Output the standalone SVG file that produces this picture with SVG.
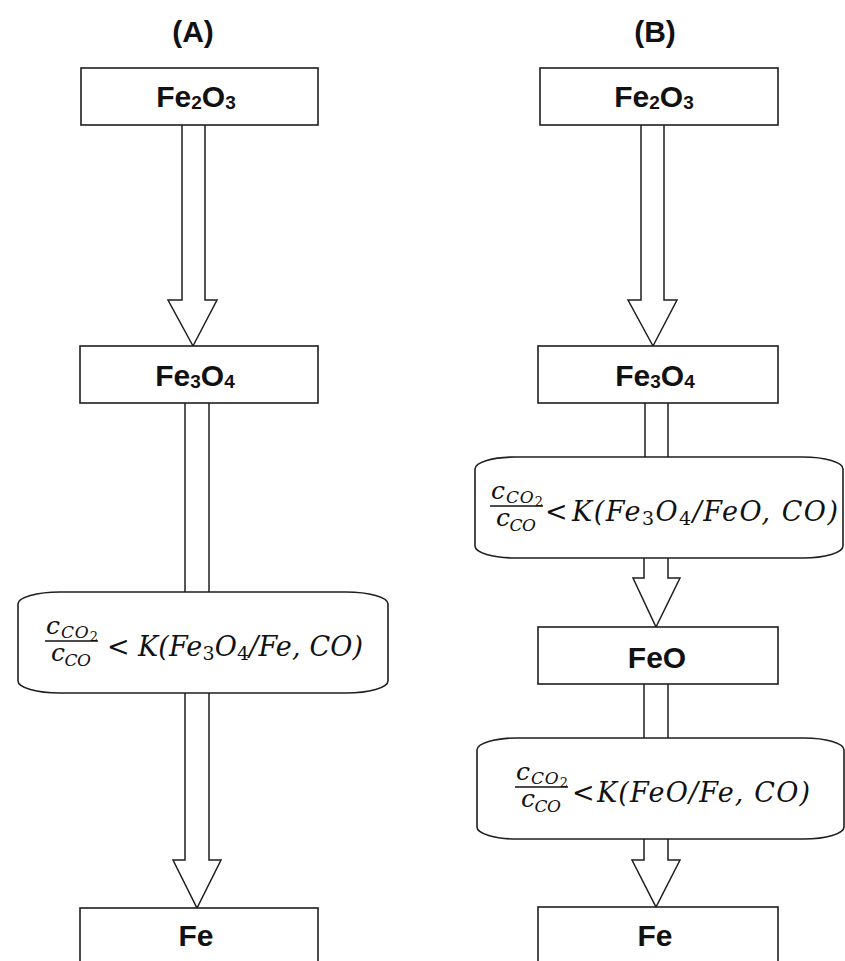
<svg xmlns="http://www.w3.org/2000/svg" width="845" height="961" viewBox="0 0 845 961">
<style>
.box{fill:#fff;stroke:#1e1e1e;stroke-width:1.6}
.arr{fill:#fff;stroke:#1e1e1e;stroke-width:1.5;stroke-linejoin:miter}
.lbl{font-family:"Liberation Sans",Arial,sans-serif;font-weight:bold;font-size:30px;fill:#111;text-anchor:middle}
.sub{font-size:19px}
.ttl{font-family:"Liberation Sans",Arial,sans-serif;font-weight:bold;font-size:30px;fill:#111;text-anchor:middle}
.m{font-family:"DejaVu Serif","Liberation Serif",serif;font-style:italic;font-size:27px;fill:#111}
.mc{font-family:"DejaVu Serif","Liberation Serif",serif;font-style:italic;font-size:25px;fill:#111}
.ms{font-size:17px}
.mn{font-style:normal;font-size:13px}
.md{font-style:normal;font-size:19px}
.bar{stroke:#111;stroke-width:1.3}
</style>
<rect x="0" y="0" width="845" height="961" fill="#fff"/>
<g id="titles">
<text class="ttl" x="193" y="42">(A)</text>
<text class="ttl" x="655" y="42">(B)</text>
</g>
<g id="connectors">
<polyline class="arr" points="182,125 182,300 168,300 193,346 217,300 205,300 205,125"/>
<line class="arr" x1="185" y1="403" x2="185" y2="592"/>
<line class="arr" x1="209" y1="403" x2="209" y2="592"/>
<polyline class="arr" points="185,693 185,860 173,860 197,908 221,860 209,860 209,693"/>
<polyline class="arr" points="641,125 641,300 628,300 653,346 677,300 664,300 664,125"/>
<line class="arr" x1="645" y1="403" x2="645" y2="457"/>
<line class="arr" x1="668" y1="403" x2="668" y2="457"/>
<polyline class="arr" points="644,558 644,578 633,578 656,627 680,578 668,578 668,558"/>
<line class="arr" x1="644" y1="684" x2="644" y2="738"/>
<line class="arr" x1="668" y1="684" x2="668" y2="738"/>
<polyline class="arr" points="644,839 644,860 632,860 656,907 680,860 668,860 668,839"/>
</g>
<g id="A_Fe2O3">
<rect class="box" x="81" y="68" width="237" height="57"/>
<text class="lbl" x="196" y="107">Fe<tspan class="sub" dy="2">2</tspan><tspan dy="-2">O</tspan><tspan class="sub" dy="2">3</tspan></text>
</g>
<g id="A_Fe3O4">
<rect class="box" x="80" y="346" width="238" height="57"/>
<text class="lbl" x="195" y="386">Fe<tspan class="sub" dy="2">3</tspan><tspan dy="-2">O</tspan><tspan class="sub" dy="2">4</tspan></text>
</g>
<g id="A_cond">
<rect class="box" x="18" y="592" width="370" height="101" rx="42" ry="12"/>
<text class="mc" x="46" y="634" textLength="52" lengthAdjust="spacing">c<tspan class="ms" dy="4">CO</tspan><tspan class="mn" dy="3">2</tspan></text>
<line class="bar" x1="45" y1="641" x2="98" y2="641"/>
<text class="mc" x="51" y="661" textLength="40" lengthAdjust="spacing">c<tspan class="ms" dy="5">CO</tspan></text>
<text class="m" x="107" y="656" font-style="normal">&lt;</text>
<text class="m" x="138" y="656" textLength="225" lengthAdjust="spacing">K(Fe<tspan class="md" dy="4">3</tspan><tspan dy="-4">O</tspan><tspan class="md" dy="4">4</tspan><tspan dy="-4">/Fe, CO)</tspan></text>
</g>
<g id="A_Fe">
<rect class="box" x="80" y="908" width="238" height="70"/>
<text class="lbl" x="196" y="946">Fe</text>
</g>
<g id="B_Fe2O3">
<rect class="box" x="540" y="68" width="238" height="57"/>
<text class="lbl" x="654" y="107">Fe<tspan class="sub" dy="2">2</tspan><tspan dy="-2">O</tspan><tspan class="sub" dy="2">3</tspan></text>
</g>
<g id="B_Fe3O4">
<rect class="box" x="538" y="346" width="240" height="57"/>
<text class="lbl" x="655" y="386">Fe<tspan class="sub" dy="2">3</tspan><tspan dy="-2">O</tspan><tspan class="sub" dy="2">4</tspan></text>
</g>
<g id="B_cond1">
<rect class="box" x="475" y="457" width="368" height="101" rx="40" ry="12"/>
<text class="mc" x="491" y="499" textLength="52" lengthAdjust="spacing">c<tspan class="ms" dy="4">CO</tspan><tspan class="mn" dy="3">2</tspan></text>
<line class="bar" x1="490" y1="506" x2="543" y2="506"/>
<text class="mc" x="496" y="526" textLength="40" lengthAdjust="spacing">c<tspan class="ms" dy="5">CO</tspan></text>
<text class="m" x="545" y="521" font-style="normal">&lt;</text>
<text class="m" x="572" y="521" textLength="266" lengthAdjust="spacing">K(Fe<tspan class="md" dy="4">3</tspan><tspan dy="-4">O</tspan><tspan class="md" dy="4">4</tspan><tspan dy="-4">/FeO, CO)</tspan></text>
</g>
<g id="B_FeO">
<rect class="box" x="538" y="627" width="240" height="57"/>
<text class="lbl" x="657" y="668">FeO</text>
</g>
<g id="B_cond2">
<rect class="box" x="477" y="738" width="367" height="101" rx="40" ry="12"/>
<text class="mc" x="516" y="780" textLength="52" lengthAdjust="spacing">c<tspan class="ms" dy="4">CO</tspan><tspan class="mn" dy="3">2</tspan></text>
<line class="bar" x1="515" y1="787" x2="568" y2="787"/>
<text class="mc" x="521" y="807" textLength="40" lengthAdjust="spacing">c<tspan class="ms" dy="5">CO</tspan></text>
<text class="m" x="572" y="802" font-style="normal">&lt;</text>
<text class="m" x="597" y="802" textLength="213" lengthAdjust="spacing">K(FeO/Fe, CO)</text>
</g>
<g id="B_Fe">
<rect class="box" x="538" y="907" width="240" height="70"/>
<text class="lbl" x="655" y="946">Fe</text>
</g>
</svg>
